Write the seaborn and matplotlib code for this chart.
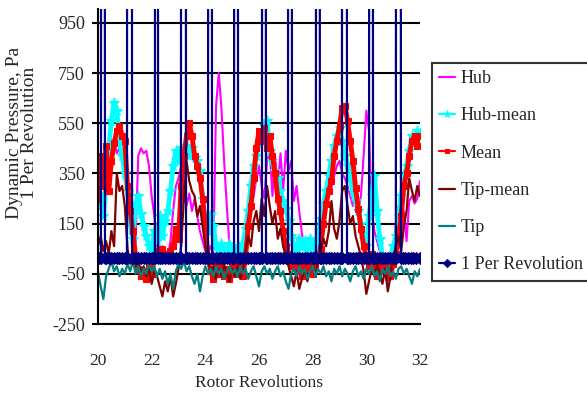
import numpy as np
import pandas as pd
import matplotlib
matplotlib.use("Agg")
import matplotlib.pyplot as plt
import seaborn as sns

# ---------------- data ----------------
rev = np.round(np.arange(20.0, 32.05, 0.1), 1)

hub = [200, 280, 240, 330, 400, 460, 490, 430, 450, 400,
       380, 220, 120, 60, 80, 420, 450, 430, 440, 380,
       260, 180, 60, 30, 60, 40, 20, 80, 200, 300,
       330, 380, 260, 220, 270, 200, 250, 180, 120, 80,
       40, 30, 60, 40, 620, 750, 610, 400, 220, 60,
       30, 10, 40, 20, 50, 100, 150, 200, 260, 330,
       380, 300, 250, 400, 440, 260, 420, 300, 430, 280,
       440, 360, 400, 240, 300, 200, 110, 40, 30, 60,
       20, 40, 60, 120, 180, 220, 260, 300, 340, 380,
       400, 350, 330, 300, 260, 220, 280, 200, 260, 420,
       600, 520, 200, 120, 80, 40, 0, -60, -80, -40,
       20, 150, 220, 100, 200, 80, 240, 260, 230, 250,
       320]

hub_mean = [220, 260, 180, 300, 450, 560, 630, 600, 480, 420,
            350, 280, 160, 90, 230, 260, 190, 140, 100, 60,
            40, 120, 80, 180, 100, 160, 200, 280, 380, 440,
            400, 450, 430, 460, 420, 450, 410, 400, 360, 250,
            160, 120, 190, 140, 60, 40, 70, 50, 40, 70,
            50, 40, 60, 40, 70, 130, 200, 300, 380, 420,
            470, 500, 540, 560, 440, 400, 360, 330, 280, 240,
            210, 160, 100, 60, 40, 90, 60, 80, 40, 90,
            70, 50, 80, 170, 230, 280, 340, 400, 460, 500,
            530, 480, 420, 380, 330, 280, 240, 200, 150, 90,
            60, 180, 260, 340, 200, 90, 20, -30, -60, 10,
            60, 100, 180, 260, 330, 380, 440, 500, 480, 520,
            510]

mean = [250, 420, 300, 460, 280, 400, 470, 520, 540, 500,
        480, 300, 200, 120, 20, -30, -60, -40, -70, -20,
        -50, 10, 40, 20, 50, 30, 10, 40, 60, 130,
        90, 300, 420, 500, 550, 500, 420, 380, 330, 250,
        140, 20, -40, -70, -20, -50, -10, -60, -30, -70,
        -20, -50, -10, -40, -60, 20, 140, 220, 330, 450,
        520, 480, 530, 450, 500, 420, 350, 250, 200, 120,
        60, 30, -20, 10, -40, -10, -60, 0, -30, 10,
        -50, -20, 20, 50, 150, 230, 280, 320, 420, 480,
        540, 610, 620, 560, 480, 400, 290, 210, 130, 60,
        20, -20, 30, -10, -60, 0, -40, 20, -30, -60,
        -10, 30, 100, 180, 300, 350, 420, 480, 500, 460,
        500]

tip_mean = [60, 100, 40, 80, 30, 120, 60, 350, 280, 300,
            220, 50, -10, 30, -20, 10, -50, -20, -60, -30,
            -90, -40, -60, -100, -140, -80, -120, -60, -140, -90,
            -30, 60, 250, 400, 320, 280, 260, 180, 220, 140,
            60, 0, -40, -20, -70, -30, -60, -10, -50, -80,
            -30, -60, -20, -70, -40, 40, 100, 60, 160, 200,
            120, 250, 180, 300, 220, 150, 200, 90, 130, 60,
            20, -20, -60, -100, -40, -110, -70, -30, -80, -40,
            -20, -60, 0, 40, 90, 60, 120, 240, 130, 90,
            160, 280, 300, 220, 150, 180, 100, 60, 20, -40,
            -130, -80, -30, -60, -10, -50, -90, -30, -120, -60,
            10, 60, 100, 40, 140, 200, 330, 280, 240, 300,
            260]

tip = [-40, -100, -150, -60, -30, 0, -40, -20, -60, -30,
       -50, -10, -40, 0, -50, -20, -60, -30, -50, -10,
       -40, -20, -60, -30, -70, -40, -90, -50, -110, -40,
       -10, -30, 0, -40, -20, -60, -90, -50, -120, -60,
       -20, -50, -30, -60, -20, -50, -30, -70, -40, -20,
       -50, -30, -60, -20, -50, -30, -70, -40, -20, -60,
       -100, -40, -20, -50, -30, -70, -40, -20, -60, -40,
       -80, -110, -50, -30, -60, -20, -50, -30, -70, -40,
       -20, -60, -30, -50, -20, -60, -40, -80, -30, -50,
       -20, -60, -30, -50, -80, -40, -20, -60, -40, -70,
       -30, -50, -20, -60, -40, -80, -30, -50, -20, -60,
       -40, -70, -30, -20, -50, -30, -60, -90, -40, -60,
       -30]

# 1 Per Revolution: flat baseline with one tall pulse per revolution
pulse_x = [
    20.00, 20.05, 20.11, 20.12, 20.25, 20.26, 20.30, 20.40, 20.50, 20.60, 20.70, 20.80, 20.90,
    21.00, 21.04, 21.08, 21.09, 21.26, 21.27, 21.30, 21.40, 21.50, 21.60, 21.70, 21.80, 21.90,
    22.00, 22.05, 22.12, 22.13, 22.23, 22.24, 22.30, 22.40, 22.50, 22.60, 22.70, 22.80, 22.90,
    23.00, 23.05, 23.09, 23.10, 23.27, 23.28, 23.33, 23.40, 23.50, 23.60, 23.70, 23.80, 23.90,
    24.00, 24.05, 24.10, 24.11, 24.24, 24.25, 24.30, 24.40, 24.50, 24.60, 24.70, 24.80, 24.90,
    25.00, 25.04, 25.07, 25.08, 25.21, 25.22, 25.30, 25.40, 25.50, 25.60, 25.70, 25.80, 25.90,
    26.00, 26.05, 26.11, 26.12, 26.25, 26.26, 26.30, 26.40, 26.50, 26.60, 26.70, 26.80, 26.90,
    27.00, 27.04, 27.08, 27.09, 27.22, 27.23, 27.30, 27.40, 27.50, 27.60, 27.70, 27.80, 27.90,
    28.00, 28.05, 28.12, 28.13, 28.26, 28.27, 28.32, 28.40, 28.50, 28.60, 28.70, 28.80, 28.90,
    29.00, 29.04, 29.09, 29.10, 29.27, 29.28, 29.33, 29.40, 29.50, 29.60, 29.70, 29.80, 29.90,
    30.00, 30.05, 30.10, 30.11, 30.24, 30.25, 30.30, 30.40, 30.50, 30.60, 30.70, 30.80, 30.90,
    31.00, 31.05, 31.10, 31.11, 31.28, 31.29, 31.35, 31.45, 31.55, 31.65, 31.75, 31.85, 32.00,
]
pulse_y = [
    12, 12, 12, 3000, 3000, 12, 12, 12, 12, 12, 12, 12, 12,
    12, 12, 12, 3000, 3000, 12, 12, 12, 12, 12, 12, 12, 12,
    12, 12, 12, 3000, 3000, 12, 12, 12, 12, 12, 12, 12, 12,
    12, 12, 12, 3000, 3000, 12, 12, 12, 12, 12, 12, 12, 12,
    12, 12, 12, 3000, 3000, 12, 12, 12, 12, 12, 12, 12, 12,
    12, 12, 12, 3000, 3000, 12, 12, 12, 12, 12, 12, 12, 12,
    12, 12, 12, 3000, 3000, 12, 12, 12, 12, 12, 12, 12, 12,
    12, 12, 12, 3000, 3000, 12, 12, 12, 12, 12, 12, 12, 12,
    12, 12, 12, 3000, 3000, 12, 12, 12, 12, 12, 12, 12, 12,
    12, 12, 12, 3000, 3000, 12, 12, 12, 12, 12, 12, 12, 12,
    12, 12, 12, 3000, 3000, 12, 12, 12, 12, 12, 12, 12, 12,
    12, 12, 12, 3000, 3000, 12, 12, 12, 12, 12, 12, 12, 12,
]

x_ticks = [20, 22, 24, 26, 28, 30, 32]
y_ticks = [-250, -50, 150, 350, 550, 750, 950]

df = pd.DataFrame({"rev": rev, "Hub": hub, "Hub-mean": hub_mean, "Mean": mean,
                   "Tip-mean": tip_mean, "Tip": tip})
dfp = pd.DataFrame({"rev": pulse_x, "val": pulse_y})

# ---------------- style ----------------
sns.set_style("white")
plt.rcParams["font.family"] = ["Liberation Serif", "DejaVu Serif"]

fig = plt.figure(figsize=(5.87, 4.11), dpi=100)
ax = fig.add_axes([98 / 587, 87 / 411, 322 / 587, 315 / 411])

sns.lineplot(data=df, x="rev", y="Hub", ax=ax, color="#FF00FF", lw=1.5,
             label="Hub", estimator=None)
sns.lineplot(data=df, x="rev", y="Hub-mean", ax=ax, color="#00FFFF", lw=3.5,
             marker="*", markersize=8, markeredgecolor="#00FFFF",
             label="Hub-mean", estimator=None)
sns.lineplot(data=df, x="rev", y="Mean", ax=ax, color="#FF0000", lw=3.5,
             marker="s", markersize=5, markeredgecolor="#FF0000",
             label="Mean", estimator=None)
sns.lineplot(data=df, x="rev", y="Tip-mean", ax=ax, color="#800000", lw=1.6,
             label="Tip-mean", estimator=None)
sns.lineplot(data=df, x="rev", y="Tip", ax=ax, color="#008080", lw=1.6,
             label="Tip", estimator=None)
sns.lineplot(data=dfp, x="rev", y="val", ax=ax, color="#000080", lw=1.6,
             marker="D", markersize=6, markeredgecolor="#000080",
             label="1 Per Revolution", estimator=None)

ax.set_xlim(20, 32)
ax.set_ylim(-250, 1005)
ax.set_xticks(x_ticks)
ax.set_yticks(y_ticks)
ax.set_xticklabels([str(v) for v in x_ticks])
ax.set_yticklabels([str(v) for v in y_ticks])

ax.yaxis.grid(True, color="black", lw=1.5)
ax.xaxis.grid(False)
ax.set_axisbelow(True)

for s in ["top", "right"]:
    ax.spines[s].set_visible(False)
for s in ["left", "bottom"]:
    ax.spines[s].set_visible(True)
    ax.spines[s].set_color("black")
    ax.spines[s].set_linewidth(1.5)

ax.tick_params(axis="y", direction="out", length=4.5, width=1.5, color="black",
               pad=5, labelsize=13, left=True)
ax.tick_params(axis="x", length=0, pad=21, labelsize=12.5)

ax.set_xlabel("Rotor Revolutions", fontsize=12.5, labelpad=4)
ax.set_ylabel("Dynamic Pressure, Pa\n1 Per Revolution", fontsize=14, linespacing=0.9)
ax.yaxis.set_label_coords(-0.185, 0.606)

ax.get_legend().remove()
handles, labels = ax.get_legend_handles_labels()
leg = fig.legend(handles, labels, loc="upper left",
                 bbox_to_anchor=(432 / 587, 1 - 63 / 411),
                 bbox_transform=fig.transFigure,
                 fontsize=13, frameon=True, fancybox=False, shadow=False,
                 edgecolor="black", borderpad=0.4, labelspacing=1.12,
                 handlelength=0.9, handletextpad=0.3, borderaxespad=0,
                 markerscale=0.7)
leg.get_frame().set_linewidth(1.5)
for line in leg.get_lines():
    line.set_linewidth(1.6)

fig.savefig("out.png", dpi=100)
